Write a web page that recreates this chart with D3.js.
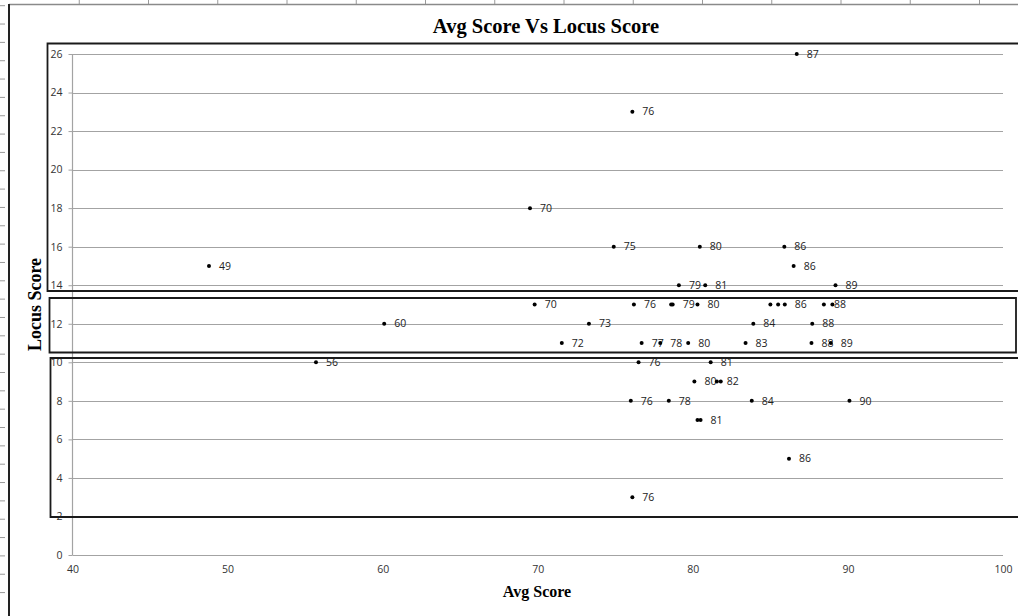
<!DOCTYPE html>
<html>
<head>
<meta charset="utf-8">
<script src="https://cdn.jsdelivr.net/npm/d3@7"></script>
<style>
  html, body { margin: 0; padding: 0; background: #fff; }
  svg { display: block; }
</style>
</head>
<body>
<svg id="chart" width="1018" height="616"></svg>
<script>
// ---- data ----
const title = "Avg Score Vs Locus Score";
const xTitle = "Avg Score";
const yTitle = "Locus Score";
const xTicks = [40, 50, 60, 70, 80, 90, 100];
const yTicks = [0, 2, 4, 6, 8, 10, 12, 14, 16, 18, 20, 22, 24, 26];

const avgScore = [
  86.7, 76.1, 69.5, 74.9, 80.45, 85.9, 48.8, 86.5, 79.1, 80.8, 89.2,
  69.8, 76.2, 78.6, 78.7, 80.3, 85.0, 85.5, 85.93, 88.45, 89.0,
  60.1, 73.3, 83.9, 87.7,
  71.55, 76.7, 77.9, 79.7, 83.4, 87.65, 88.9,
  55.7, 76.5, 81.15,
  80.1, 81.55, 81.8,
  76.0, 78.45, 83.8, 90.1,
  80.3, 80.5,
  86.2, 76.1
];
const locusScore = [
  26, 23, 18, 16, 16, 16, 15, 15, 14, 14, 14,
  13, 13, 13, 13, 13, 13, 13, 13, 13, 13,
  12, 12, 12, 12,
  11, 11, 11, 11, 11, 11, 11,
  10, 10, 10,
  9, 9, 9,
  8, 8, 8, 8,
  7, 7,
  5, 3
];
const pointLabels = [
  "87", "76", "70", "75", "80", "86", "49", "86", "79", "81", "89",
  "70", "76", "", "79", "80", "", "", "86", "88", "",
  "60", "73", "84", "88",
  "72", "77", "78", "80", "83", "88", "89",
  "56", "76", "81",
  "80", "82", "",
  "76", "78", "84", "90",
  "", "81",
  "86", "76"
];

// ---- layout ----
const W = 1018, H = 616;
const plot = { left: 72.5, right: 1003, top: 54, bottom: 555 };
const sansFont = "'Open Sans', 'Liberation Sans', sans-serif";
const serifFont = "'Liberation Serif', 'Times New Roman', serif";

const svg = d3.select("#chart");
svg.append("rect").attr("width", W).attr("height", H).attr("fill", "#fff");

const x = d3.scaleLinear().domain([40, 100]).range([plot.left, plot.right]);
const y = d3.scaleLinear().domain([0, 26]).range([plot.bottom, plot.top]);

// ---- page ruler decoration ----
const ruler = svg.append("g");
ruler.selectAll("line.rt").data(d3.range(1, 15)).join("line")
  .attr("x1", k => 10 + k * 69.25).attr("x2", k => 10 + k * 69.25)
  .attr("y1", 0).attr("y2", 4).attr("stroke", "#9a9a9a").attr("stroke-width", 1);
ruler.selectAll("line.rl").data(d3.range(0, 33)).join("line")
  .attr("x1", 0).attr("x2", 5)
  .attr("y1", k => 5.7 + k * 18.34).attr("y2", k => 5.7 + k * 18.34)
  .attr("stroke", "#9a9a9a").attr("stroke-width", 1);
ruler.append("line").attr("x1", 9).attr("x2", W).attr("y1", 4.5).attr("y2", 4.5)
  .attr("stroke", "#8a8a8a").attr("stroke-width", 1.5);
ruler.append("line").attr("x1", 9).attr("x2", 9).attr("y1", 4).attr("y2", H)
  .attr("stroke", "#222").attr("stroke-width", 2);

// ---- gridlines ----
svg.append("g").selectAll("line").data(yTicks).join("line")
  .attr("x1", plot.left).attr("x2", plot.right)
  .attr("y1", d => Math.round(y(d)) + 0.5).attr("y2", d => Math.round(y(d)) + 0.5)
  .attr("stroke", "#a3a3a3").attr("stroke-width", 1.2);

// ---- y axis ----
const yAxis = svg.append("g")
  .attr("transform", `translate(${plot.left},0)`)
  .call(d3.axisLeft(y).tickValues(yTicks).tickSize(4).tickPadding(6).tickFormat(d3.format("d")));
yAxis.select(".domain").attr("stroke", "#a3a3a3").attr("stroke-width", 1.2)
  .attr("d", `M0,${plot.bottom}V${plot.top}`);
yAxis.selectAll(".tick line").attr("stroke", "#a3a3a3");
yAxis.selectAll(".tick text").attr("font-family", sansFont).attr("font-size", 10.5)
  .attr("fill", "#333");

// ---- x axis ----
const xAxis = svg.append("g")
  .attr("transform", `translate(0,${plot.bottom})`)
  .call(d3.axisBottom(x).tickValues(xTicks).tickSize(0).tickPadding(11).tickFormat(d3.format("d")));
xAxis.select(".domain").remove();
xAxis.selectAll(".tick text").attr("font-family", sansFont).attr("font-size", 10.5)
  .attr("fill", "#333");

// ---- annotation boxes ----
const boxes = svg.append("g").attr("fill", "none").attr("stroke", "#1a1a1a").attr("stroke-width", 1.8);
boxes.append("path").attr("d", `M${W + 5},43.5 H47.5 V291 H${W + 5}`);
boxes.append("path").attr("d", `M49.5,298 H1016 V352.5 H49.5 Z`);
boxes.append("path").attr("d", `M${W + 5},358 H50.5 V517 H${W + 5}`);

// ---- points ----
const pts = d3.range(avgScore.length).map(i => ({ x: avgScore[i], y: locusScore[i], label: pointLabels[i] }));
const g = svg.append("g");
g.selectAll("text.lbl").data(pts.filter(d => d.label !== "")).join("text")
  .attr("class", "lbl")
  .attr("x", d => x(d.x) + 10).attr("y", d => y(d.y))
  .attr("dy", "0.35em")
  .attr("font-family", sansFont).attr("font-size", 10.5).attr("fill", "#222")
  .text(d => d.label);
g.selectAll("circle").data(pts).join("circle")
  .attr("cx", d => x(d.x)).attr("cy", d => y(d.y)).attr("r", 2)
  .attr("fill", "#000");

// ---- titles ----
svg.append("text").attr("x", 546).attr("y", 33).attr("text-anchor", "middle")
  .attr("font-family", serifFont).attr("font-weight", "bold").attr("font-size", 20.5)
  .attr("fill", "#000").text(title);
svg.append("text").attr("x", 537).attr("y", 597).attr("text-anchor", "middle")
  .attr("font-family", serifFont).attr("font-weight", "bold").attr("font-size", 16)
  .attr("fill", "#000").text(xTitle);
svg.append("text").attr("transform", `translate(41,${(plot.top + plot.bottom) / 2}) rotate(-90)`)
  .attr("text-anchor", "middle")
  .attr("font-family", serifFont).attr("font-weight", "bold").attr("font-size", 18)
  .attr("fill", "#000").text(yTitle);
</script>
</body>
</html>
